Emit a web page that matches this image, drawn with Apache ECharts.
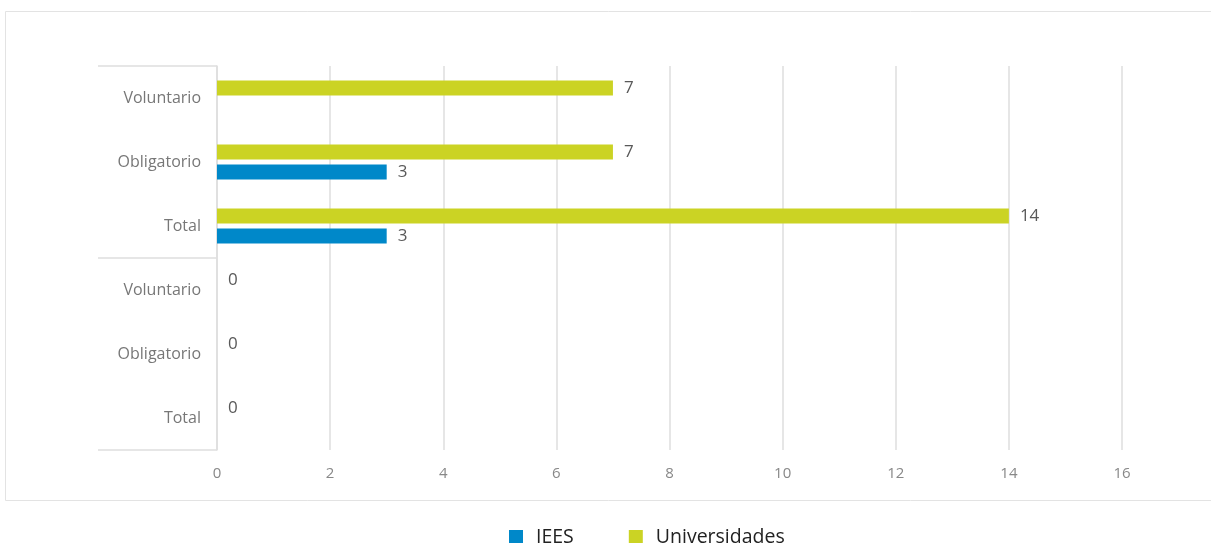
<!DOCTYPE html>
<html>
<head>
<meta charset="utf-8">
<script src="https://cdn.jsdelivr.net/npm/echarts@6/dist/echarts.min.js"></script>
<style>html,body{margin:0;padding:0;background:#fff;}#c{width:1211px;height:543px;}</style>
</head>
<body>
<div id="c"></div>
<script>
const categories = ['Total', 'Obligatorio', 'Voluntario', 'Total', 'Obligatorio', 'Voluntario'];
const groups = ['', ''];
const seriesNames = ['IEES', 'Universidades'];
const ieesValues = [null, null, null, 3, 3, null];
const univValues = [0, 0, 0, 14, 7, 7];
const xTicks = { min: 0, max: 16, interval: 2 };

const chart = echarts.init(document.getElementById('c'), null, { renderer: 'canvas' });
const FONT = '"Open Sans", "Noto Sans", sans-serif';
const labelStyle = { show: true, position: 'right', distance: 11, color: '#595959', fontSize: 17, fontFamily: FONT };
chart.setOption({
  animation: false,
  graphic: [{
    type: 'rect', shape: { x: 5.5, y: 11.5, width: 1210, height: 489 },
    style: { fill: 'none', stroke: '#e3e3e3', lineWidth: 1 }, silent: true
  }],
  grid: { left: 217, right: 89, top: 66, bottom: 93 },
  legend: {
    data: seriesNames, top: 522, left: 504, itemWidth: 14, itemHeight: 14, itemGap: 55,
    icon: 'rect', textStyle: { color: '#222', fontSize: 19.5, fontFamily: FONT, padding: [0, 0, 0, 8] }
  },
  xAxis: {
    type: 'value', min: xTicks.min, max: xTicks.max, interval: xTicks.interval,
    axisLine: { show: false }, axisTick: { show: false },
    splitLine: { lineStyle: { color: '#dedede', width: 1.5 } },
    axisLabel: { color: '#888', fontSize: 15, fontFamily: FONT, margin: 16 }
  },
  yAxis: [{
    type: 'category', data: categories,
    axisLine: { show: true, lineStyle: { color: '#dedede', width: 1.5 } },
    axisTick: { show: false },
    axisLabel: { color: '#777', fontSize: 16, fontFamily: FONT, margin: 16 }
  }, {
    type: 'category', data: groups, position: 'left',
    axisLine: { show: false },
    axisTick: { show: true, length: 119, lineStyle: { color: '#dedede', width: 1.5 } },
    axisLabel: { show: false }
  }],
  series: [{
    name: seriesNames[1], type: 'bar', data: univValues, barWidth: 15, barGap: '33%',
    itemStyle: { color: '#cbd324' }, label: labelStyle
  }, {
    name: seriesNames[0], type: 'bar', data: ieesValues, barWidth: 15, barGap: '33%',
    itemStyle: { color: '#0088c9' }, label: labelStyle
  }]
});
</script>
</body>
</html>
